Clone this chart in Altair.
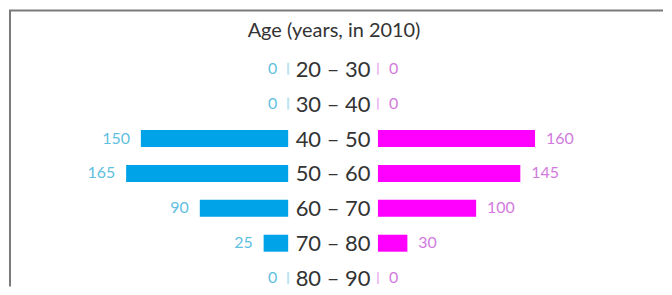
import altair as alt
import pandas as pd

ages = ["20 – 30", "30 – 40", "40 – 50", "50 – 60", "60 – 70", "70 – 80", "80 – 90"]
left_values = [0, 0, 150, 165, 90, 25, 0]
right_values = [0, 0, 160, 145, 100, 30, 0]
title_text = "Age (years, in 2010)"

df = pd.DataFrame({"age": ages, "left": left_values, "right": right_values})

BLUE = "#00a2e8"
MAGENTA = "#ff00ff"
BLUE_LBL = "#5fc0e0"
PINK_LBL = "#d27ade"
BLUE_TICK = "#9fd7ea"
PINK_TICK = "#eaa6ef"
G = 45.7  # half gap for the centre labels, in x units

W, H = 656, 279

x_scale = alt.Scale(domain=[-330, 336], range=[0, W], nice=False, zero=False)
y_scale = alt.Scale(domain=ages, range=[52, 279], paddingInner=0.514, paddingOuter=0)
y_enc = alt.Y("age:N", scale=y_scale, axis=None, sort=ages)

base = alt.Chart(df).transform_calculate(
    lx0=f"-{G}",
    lx1=f"-{G} - datum.left",
    rx0=f"{G}",
    rx1=f"{G} + datum.right",
)

left_bars = base.mark_bar(color=BLUE).encode(
    x=alt.X("lx0:Q", scale=x_scale, axis=None), x2="lx1:Q", y=y_enc
)
right_bars = base.mark_bar(color=MAGENTA).encode(
    x=alt.X("rx0:Q", scale=x_scale, axis=None), x2="rx1:Q", y=y_enc
)
left_zero = base.transform_filter("datum.left == 0").mark_tick(
    color=BLUE_TICK, thickness=2, size=12, orient="vertical"
).encode(x=alt.X("lx0:Q", scale=x_scale, axis=None), y=y_enc)
right_zero = base.transform_filter("datum.right == 0").mark_tick(
    color=PINK_TICK, thickness=2, size=12, orient="vertical"
).encode(x=alt.X("rx0:Q", scale=x_scale, axis=None), y=y_enc)

left_lbl = base.mark_text(
    align="right", baseline="middle", dx=-11, fontSize=16, font="Lato", color=BLUE_LBL
).encode(x=alt.X("lx1:Q", scale=x_scale, axis=None), y=y_enc, text="left:Q")
right_lbl = base.mark_text(
    align="left", baseline="middle", dx=11, fontSize=16, font="Lato", color=PINK_LBL
).encode(x=alt.X("rx1:Q", scale=x_scale, axis=None), y=y_enc, text="right:Q")

mid_lbl = base.mark_text(
    align="center", baseline="middle", fontSize=22, font="Lato", color="#333333", dy=1
).encode(x=alt.datum(0, scale=x_scale), y=y_enc, text="age:N")

one = pd.DataFrame({"t": [title_text]})
title = alt.Chart(one).mark_text(
    align="center", baseline="middle", fontSize=20, font="Lato", color="#333333"
).encode(x=alt.datum(1, scale=x_scale), y=alt.value(23), text="t:N")

frame = pd.DataFrame({"a": [0]})
top_rule = alt.Chart(frame).mark_rule(color="#7a7a7a", strokeWidth=2).encode(
    x=alt.value(0), x2=alt.value(W), y=alt.value(2)
)
left_rule = alt.Chart(frame).mark_rule(color="#7a7a7a", strokeWidth=2).encode(
    x=alt.value(1), y=alt.value(2), y2=alt.value(H)
)

chart = alt.layer(
    top_rule, left_rule, left_bars, right_bars, left_zero, right_zero,
    left_lbl, right_lbl, mid_lbl, title
).properties(width=W, height=H, padding=0).configure_view(stroke=None)

chart.save("out.html", embed_options={"renderer": "svg", "actions": False})
